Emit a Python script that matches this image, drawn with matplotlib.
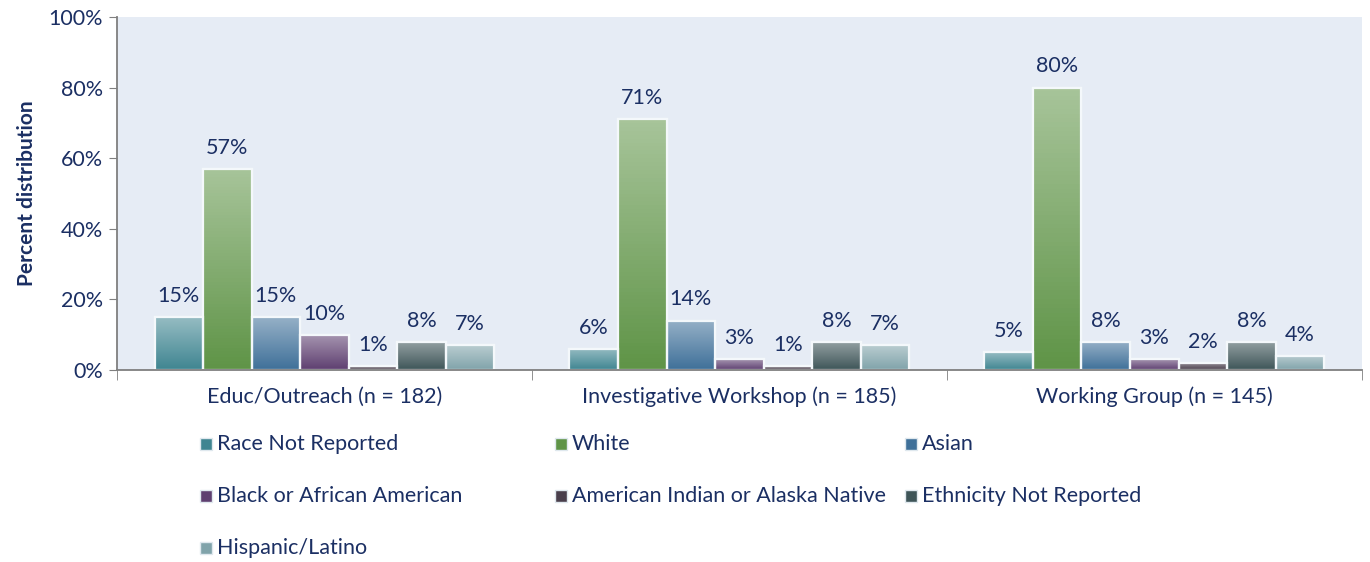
import numpy as np
import matplotlib.pyplot as plt
from matplotlib.colors import to_rgb
from matplotlib.patches import Rectangle

# data
groups = ['Educ/Outreach (n = 182)', 'Investigative Workshop (n = 185)', 'Working Group (n = 145)']
races = ['Race Not Reported', 'White', 'Asian', 'Black or African American',
         'American Indian or Alaska Native', 'Ethnicity Not Reported', 'Hispanic/Latino']
race_not_reported = [15, 6, 5]
white = [57, 71, 80]
asian = [15, 14, 8]
black = [10, 3, 3]
am_indian = [1, 1, 2]
ethnicity_not_reported = [8, 8, 8]
hispanic = [7, 7, 4]
series = [race_not_reported, white, asian, black, am_indian, ethnicity_not_reported, hispanic]

colors = ['#3f8591', '#5f9447', '#3f7099', '#5e3f70', '#4a3f4c', '#3e5558', '#80a3aa']
navy = '#1b2f63'
fs = 15.5

plt.rcParams['font.family'] = ['Lato', 'DejaVu Sans']

fig = plt.figure(figsize=(13.7, 5.62), dpi=100)
ax = fig.add_axes([0.0854, 0.3416, 0.9086, 0.6282])
ax.set_facecolor('#e6ecf5')

x = np.arange(len(groups))
w = 0.117


def mix(c, t):
    r = np.array(to_rgb(c))
    return r + (1 - r) * t


for i, vals in enumerate(series):
    pos = x + (i - 3) * w
    bars = ax.bar(pos, vals, width=w, color=colors[i], edgecolor='#f4f8fb',
                  linewidth=1.6, zorder=3)
    for b, v in zip(bars, vals):
        # vertical gradient: light at top, base colour at bottom
        grad = np.linspace(0.45, 0.0, 64)
        img = np.array([[mix(colors[i], g)] for g in grad])
        im = ax.imshow(img, extent=[b.get_x(), b.get_x() + w, 0, v],
                       aspect='auto', origin='upper', zorder=3.5)
        im.set_clip_path(b)
        ax.add_patch(Rectangle((b.get_x(), 0), w, v, fill=False,
                               edgecolor='#f4f8fb', linewidth=1.6, zorder=4))
        ax.annotate(f'{v}%', (b.get_x() + w / 2, v), xytext=(0, 8),
                    textcoords='offset points', ha='center', va='bottom',
                    fontsize=fs, color=navy)

ax.set_xlim(-0.5, 2.5)
ax.set_ylim(0, 100)
ax.set_yticks(range(0, 101, 20))
ax.set_yticklabels([f'{t}%' for t in range(0, 101, 20)], fontsize=fs, color=navy)
ax.set_xticks(x)
ax.set_xticklabels(groups, fontsize=fs, color=navy)
ax.set_xticks([-0.5, 0.5, 1.5, 2.5], minor=True)
ax.tick_params(axis='x', which='major', length=0, pad=12)
ax.tick_params(axis='x', which='minor', length=7, color='#7f7f7f', direction='out')
ax.tick_params(axis='y', length=6, color='#7f7f7f', pad=4)
ax.set_ylabel('Percent distribution', fontsize=15, fontweight='bold', color=navy, labelpad=8)
for s in ['top', 'right']:
    ax.spines[s].set_visible(False)
for s in ['left', 'bottom']:
    ax.spines[s].set_color('#7f7f7f')
    ax.spines[s].set_linewidth(1.3)
ax.spines['bottom'].set_zorder(5)

# legend laid out in rows of three
col_x = [200, 555, 905]
row_y = [444, 496, 548]
W, H = 1370, 562
for k, name in enumerate(races):
    r, c = divmod(k, 3)
    px, py = col_x[c], row_y[r]
    fig.patches.append(Rectangle((px / W, 1 - (py + 6) / H), 12 / W, 12 / H,
                                 transform=fig.transFigure, facecolor=colors[k],
                                 edgecolor='#dfe8ee', linewidth=1))
    fig.text((px + 17) / W, 1 - py / H, name, fontsize=fs, color=navy,
             va='center', ha='left')

fig.savefig('out.png', dpi=100)
